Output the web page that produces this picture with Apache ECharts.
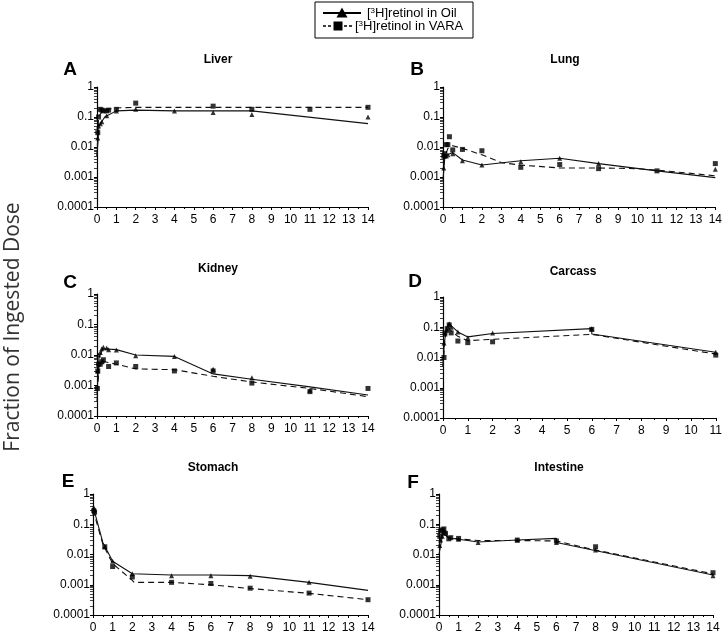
<!DOCTYPE html>
<html><head><meta charset="utf-8">
<script src="https://cdn.jsdelivr.net/npm/echarts@6/dist/echarts.min.js"></script>
<style>html,body{margin:0;padding:0;background:#fff}#c{width:725px;height:634px}</style>
</head><body><div id="c"></div>
<script>
// ---------- DATA (x = days, y = fraction of ingested dose) ----------
const liverOilPts  = [[0.04,0.02],[0.08,0.05],[0.17,0.06],[0.25,0.07],[0.5,0.11],[1,0.16],[2,0.18],[4,0.16],[6,0.14],[8,0.12],[14,0.1]];
const liverOilFit  = [[0,0.005],[0.1,0.05],[0.4,0.1],[1,0.16],[2,0.17],[4,0.16],[8,0.16],[14,0.06]];
const liverVaraPts = [[0.04,0.03],[0.08,0.1],[0.17,0.18],[0.25,0.17],[0.33,0.16],[0.5,0.16],[0.6,0.17],[1,0.18],[2,0.29],[6,0.23],[8,0.18],[11,0.18],[14,0.21]];
const liverVaraFit = [[0,0.005],[0.08,0.1],[0.3,0.17],[1,0.2],[2,0.21],[14,0.21]];

const lungOilPts  = [[0.04,0.002],[0.08,0.005],[0.17,0.005],[0.25,0.0055],[0.5,0.006],[1,0.0035],[2,0.0025],[4,0.0032],[6,0.0042],[8,0.0028],[14,0.0018]];
const lungOilFit  = [[0,0.0008],[0.1,0.005],[0.5,0.0065],[1,0.0037],[2,0.0025],[4,0.0035],[6,0.0042],[8,0.0028],[11,0.0016],[14,0.00095]];
const lungVaraPts = [[0.04,0.005],[0.08,0.006],[0.17,0.012],[0.25,0.012],[0.33,0.022],[0.5,0.008],[1,0.0083],[2,0.0075],[4,0.0021],[6,0.0026],[8,0.0019],[11,0.0016],[14,0.0028]];
const lungVaraFit = [[0,0.003],[0.25,0.009],[0.5,0.011],[1,0.009],[2,0.0055],[3,0.003],[4,0.0025],[6,0.002],[8,0.002],[10,0.0019],[11,0.0017],[14,0.0011]];

const kidneyOilPts  = [[0.04,0.003],[0.08,0.01],[0.17,0.012],[0.25,0.016],[0.33,0.018],[0.5,0.017],[0.6,0.015],[1,0.0145],[2,0.0095],[4,0.009],[6,0.0034],[8,0.0018],[11,0.0007]];
const kidneyOilFit  = [[0,0.0005],[0.1,0.008],[0.3,0.016],[0.4,0.018],[1,0.015],[2,0.01],[4,0.009],[6,0.0024],[8,0.0016],[11,0.0009],[14,0.00049]];
const kidneyVaraPts = [[0.02,0.0008],[0.04,0.003],[0.08,0.005],[0.17,0.005],[0.25,0.006],[0.33,0.007],[0.6,0.0042],[1,0.0055],[2,0.0042],[4,0.003],[6,0.003],[8,0.0012],[11,0.00063],[14,0.0008]];
const kidneyVaraFit = [[0,0.0003],[0.1,0.004],[0.4,0.006],[1,0.005],[2,0.0035],[4,0.0033],[6,0.002],[8,0.0013],[11,0.0008],[14,0.00043]];

const carcassOilPts  = [[0.04,0.03],[0.08,0.06],[0.17,0.08],[0.25,0.13],[0.33,0.1],[0.6,0.07],[1,0.045],[2,0.065],[6,0.09],[11,0.015]];
const carcassOilFit  = [[0,0.005],[0.05,0.03],[0.15,0.1],[0.25,0.13],[0.6,0.07],[1,0.048],[2,0.062],[6,0.09],[6,0.06],[11,0.015]];
const carcassVaraPts = [[0.04,0.01],[0.08,0.065],[0.17,0.09],[0.25,0.12],[0.33,0.065],[0.6,0.035],[1,0.031],[2,0.033],[6,0.085],[11,0.012]];
const carcassVaraFit = [[0,0.005],[0.1,0.07],[0.2,0.1],[0.3,0.08],[0.6,0.05],[1,0.036],[2,0.04],[6,0.058],[11,0.013]];

const stomachOilPts  = [[0.04,0.35],[0.08,0.3],[0.6,0.018],[1,0.006],[2,0.0023],[4,0.002],[6,0.002],[8,0.0019],[11,0.0012]];
const stomachOilFit  = [[0,0.4],[0.5,0.025],[1,0.006],[2,0.0023],[4,0.0021],[6,0.0021],[8,0.002],[11,0.0012],[14,0.00065]];
const stomachVaraPts = [[0.04,0.28],[0.08,0.25],[0.6,0.018],[1,0.004],[2,0.0018],[4,0.0012],[6,0.0011],[8,0.00077],[11,0.00053],[14,0.00032]];
const stomachVaraFit = [[0,0.3],[0.5,0.022],[1,0.005],[2,0.0014],[2.1,0.0012],[4,0.0012],[6,0.001],[8,0.00075],[11,0.00052],[14,0.00032]];

const intestineOilPts  = [[0.04,0.02],[0.08,0.03],[0.17,0.04],[0.25,0.06],[0.33,0.055],[1,0.032],[2,0.025],[4,0.03],[6,0.025],[8,0.014],[14,0.002]];
const intestineOilFit  = [[0,0.01],[0.2,0.05],[0.5,0.035],[1,0.032],[2,0.026],[4,0.03],[6,0.034],[6,0.025],[14,0.0021]];
const intestineVaraPts = [[0.04,0.04],[0.08,0.06],[0.17,0.065],[0.25,0.07],[0.33,0.05],[0.5,0.033],[0.6,0.036],[1,0.034],[4,0.03],[6,0.028],[8,0.018],[14,0.0025]];
const intestineVaraFit = [[0,0.02],[0.2,0.06],[0.5,0.035],[1,0.033],[2,0.029],[4,0.029],[6,0.028],[8,0.014],[14,0.0023]];

const yTickValues = [1, 0.1, 0.01, 0.001, 0.0001];
const legendNames = ['[{s|3}H]retinol in Oil', '[{s|3}H]retinol in VARA'];
const yTitle = 'Fraction of Ingested Dose';

// ---------- LAYOUT ----------
const panels = [
  {letter:'A', title:'Liver',     grid:{left:97, top:87, width:271,height:120}, xMax:14, tx:218, ty:60,  lx:70,  ly:70,  d:[liverOilPts,liverOilFit,liverVaraPts,liverVaraFit]},
  {letter:'B', title:'Lung',      grid:{left:443,top:87, width:274,height:120}, xMax:14, tx:565, ty:60,  lx:417, ly:70,  d:[lungOilPts,lungOilFit,lungVaraPts,lungVaraFit]},
  {letter:'C', title:'Kidney',    grid:{left:97, top:294,width:271,height:122}, xMax:14, tx:218, ty:269, lx:70,  ly:283, d:[kidneyOilPts,kidneyOilFit,kidneyVaraPts,kidneyVaraFit]},
  {letter:'D', title:'Carcass',   grid:{left:443,top:297,width:274,height:121}, xMax:11, tx:573, ty:272, lx:415, ly:282, d:[carcassOilPts,carcassOilFit,carcassVaraPts,carcassVaraFit]},
  {letter:'E', title:'Stomach',   grid:{left:93, top:494,width:275,height:122}, xMax:14, tx:213, ty:468, lx:68,  ly:482, d:[stomachOilPts,stomachOilFit,stomachVaraPts,stomachVaraFit]},
  {letter:'F', title:'Intestine', grid:{left:439,top:494,width:274,height:122}, xMax:14, tx:559, ty:468, lx:413, ly:483, d:[intestineOilPts,intestineOilFit,intestineVaraPts,intestineVaraFit]}
];

const FONT = '"Liberation Sans", Arial, sans-serif';
const grid = [], xAxis = [], yAxis = [], series = [], graphic = [];

panels.forEach((p, i) => {
  grid.push(Object.assign({containLabel:false}, p.grid));
  xAxis.push({
    type:'value', gridIndex:i, min:0, max:p.xMax, interval:1,
    axisLine:{show:true, onZero:false, lineStyle:{color:'#000', width:1.2}},
    axisTick:{show:true, length:3, lineStyle:{color:'#000'}},
    minorTick:{show:true, splitNumber:2, length:2, lineStyle:{color:'#000'}},
    splitLine:{show:false},
    axisLabel:{color:'#000', fontSize:12, fontFamily:FONT, margin:7}
  });
  yAxis.push({
    type:'log', logBase:10, gridIndex:i, min:0.0001, max:1,
    axisLine:{show:true, onZero:false, lineStyle:{color:'#000', width:1.2}},
    axisTick:{show:true, length:3, lineStyle:{color:'#000'}},
    minorTick:{show:true, splitNumber:9, length:3, lineStyle:{color:'#444'}},
    splitLine:{show:false},
    axisLabel:{color:'#000', fontSize:12, fontFamily:FONT, margin:3,
      formatter: v => { const r = yTickValues.find(t => Math.abs(Math.log10(t) - Math.log10(v)) < 1e-6); return r === undefined ? '' : String(r); }}
  });
  const [op, of, vp, vf] = p.d;
  series.push({type:'line', xAxisIndex:i, yAxisIndex:i, data:of, symbol:'none', silent:true, lineStyle:{color:'#111', width:1.1}, z:2});
  series.push({type:'line', xAxisIndex:i, yAxisIndex:i, data:vf, symbol:'none', silent:true, lineStyle:{color:'#111', width:1.1, type:[6,4]}, z:2});
  series.push({type:'scatter', xAxisIndex:i, yAxisIndex:i, data:op, symbol:'triangle', symbolSize:5, itemStyle:{color:'#000'}, z:3});
  series.push({type:'scatter', xAxisIndex:i, yAxisIndex:i, data:vp, symbol:'rect', symbolSize:5, itemStyle:{color:'#000'}, z:3});
  graphic.push({type:'text', x:p.tx, y:p.ty, style:{text:p.title, font:'bold 12px ' + FONT, fill:'#000', align:'center', verticalAlign:'middle'}});
  graphic.push({type:'text', x:p.lx, y:p.ly, style:{text:p.letter, font:'bold 19px ' + FONT, fill:'#000', align:'center', verticalAlign:'middle'}});
});

// legend box
graphic.push({type:'rect', shape:{x:315, y:2, width:158, height:36}, style:{fill:'#fff', stroke:'#000', lineWidth:1}});
graphic.push({type:'line', shape:{x1:323, y1:13, x2:361, y2:13}, style:{stroke:'#000', lineWidth:2}});
graphic.push({type:'polygon', shape:{points:[[336.5,17.5],[347.5,17.5],[342,7.5]]}, style:{fill:'#000'}});
graphic.push({type:'line', shape:{x1:323, y1:26, x2:332, y2:26}, style:{stroke:'#000', lineWidth:1.6, lineDash:[3,2]}});
graphic.push({type:'rect', shape:{x:333.5, y:21.5, width:9, height:9}, style:{fill:'#000'}});
graphic.push({type:'line', shape:{x1:344, y1:26, x2:353, y2:26}, style:{stroke:'#000', lineWidth:1.6, lineDash:[3,2]}});
const rich = {s:{fontSize:8, fontFamily:FONT, verticalAlign:'top', fill:'#000'}};
graphic.push({type:'text', x:367, y:13, style:{text:legendNames[0], rich, font:'13px ' + FONT, fill:'#000', verticalAlign:'middle'}});
graphic.push({type:'text', x:355, y:26, style:{text:legendNames[1], rich, font:'13px ' + FONT, fill:'#000', verticalAlign:'middle'}});

// y axis title
graphic.push({type:'text', x:13, y:327, rotation:Math.PI/2, style:{text:yTitle, font:'21px "Open Sans", sans-serif', fill:'#333', align:'center', verticalAlign:'middle'}});

const chart = echarts.init(document.getElementById('c'), null, {renderer:'canvas'});
chart.setOption({animation:false, backgroundColor:'#fff', grid, xAxis, yAxis, series, graphic});
</script></body></html>
